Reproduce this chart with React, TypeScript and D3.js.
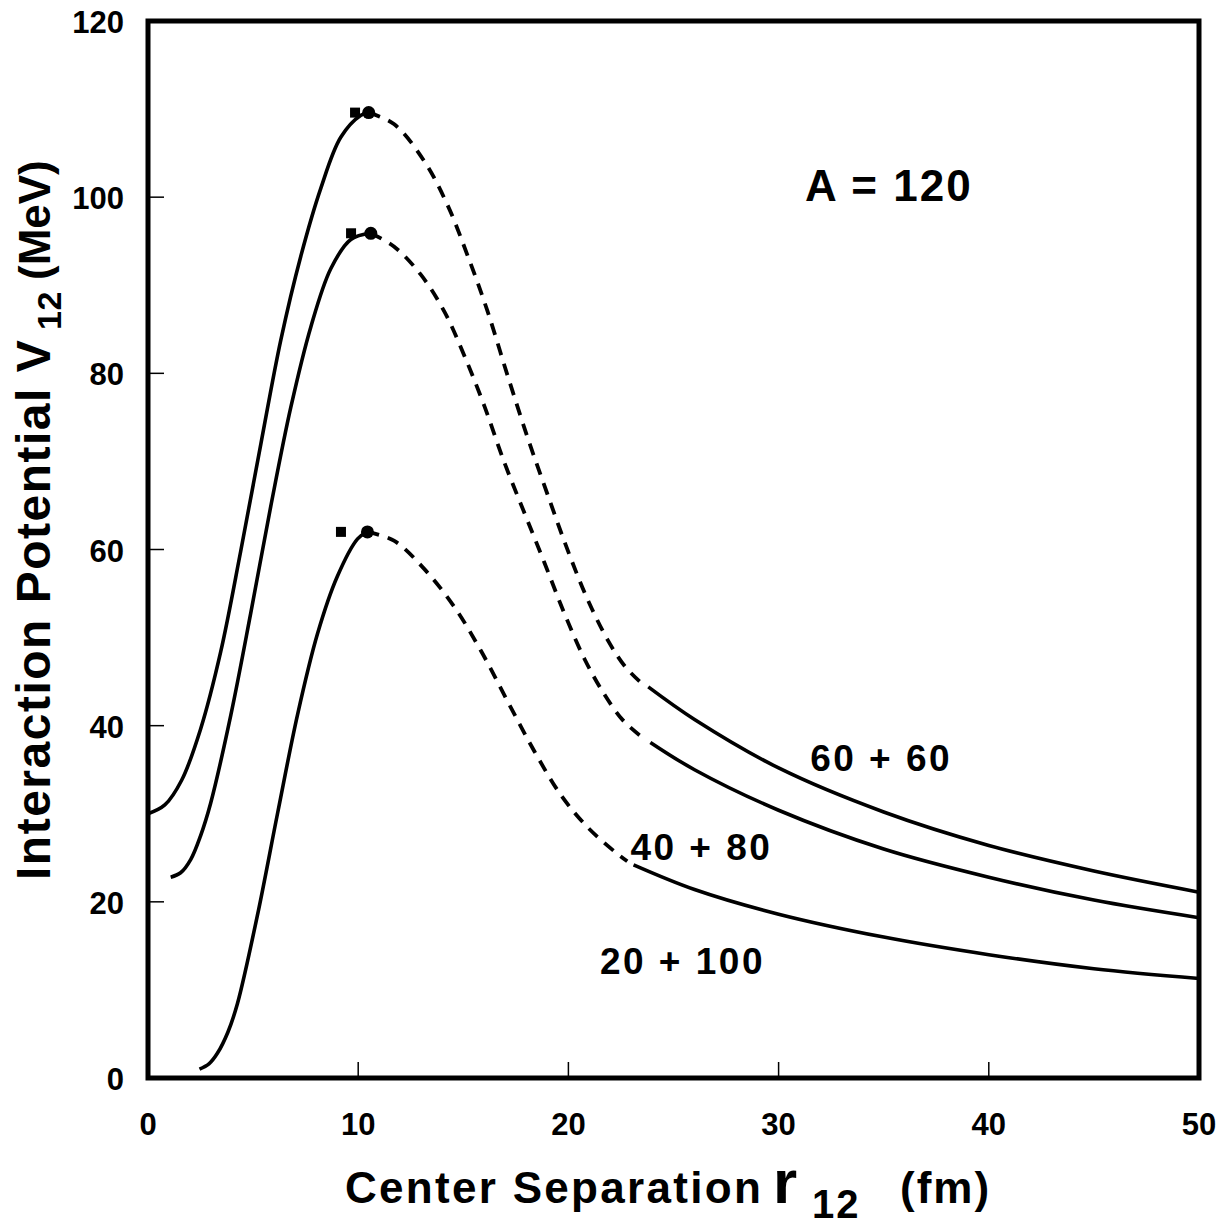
import React from "react";
import * as d3 from "d3";

// x = center separation r12 (fm), y = interaction potential V12 (MeV)
const rise60: [number, number][] = [[0, 30], [0.8, 31.0], [1.6, 33.8], [2.5, 39.6], [3.46, 48.4], [4.41, 59.8], [5.37, 72.0], [6.32, 83.8], [7.27, 93.3], [8.22, 101.0], [9.17, 106.8], [10.13, 109.3], [10.5, 109.6]];
const dash60: [number, number][] = [[10.5, 109.6], [11.7, 108.3], [13.14, 104.1], [14.25, 99.1], [15.2, 93.4], [16.16, 87], [17.1, 79.8], [18.06, 72.7], [19, 66.3], [19.97, 59.9], [20.9, 54.4], [21.9, 49.6], [22.7, 46.7], [23.4, 45.0]];
const tail60: [number, number][] = [[23.8, 44.4], [26, 40.7], [30, 35.2], [35, 30.2], [40, 26.4], [45, 23.5], [50, 21.1]];

const rise40: [number, number][] = [[1.08, 22.8], [1.55, 23.3], [2.03, 24.8], [2.5, 27.5], [2.98, 31.2], [3.94, 41.2], [4.89, 52.8], [5.84, 64.9], [6.79, 76.1], [7.75, 85.3], [8.7, 91.9], [9.65, 95.2], [10.6, 95.9]];
const dash40: [number, number][] = [[10.6, 95.9], [11.7, 94.4], [12.98, 91.2], [14.1, 87], [15.05, 82], [16, 76.3], [16.95, 69.9], [17.9, 64.2], [18.86, 58.5], [19.8, 52.8], [20.76, 47.6], [21.7, 43.6], [22.6, 40.6], [23.5, 38.7]];
const tail40: [number, number][] = [[23.9, 38.1], [26, 35.0], [30, 30.4], [35, 26.0], [40, 22.8], [45, 20.2], [50, 18.2]];

const rise20: [number, number][] = [[2.45, 1.0], [2.9, 1.6], [3.3, 2.8], [3.8, 5.2], [4.25, 8.4], [5.2, 18.4], [6.16, 30], [7.11, 41.2], [8.06, 50.4], [9, 56.9], [9.97, 61.2], [10.44, 62]];
const dash20: [number, number][] = [[10.44, 62], [11.7, 61], [13.14, 57.8], [14.57, 53.5], [15.84, 48.5], [17.1, 42.8], [18.38, 37.1], [19.65, 32.1], [20.9, 28.5], [22.2, 25.7], [22.8, 24.6]];
const tail20: [number, number][] = [[23.1, 24.2], [26, 21.4], [30, 18.6], [35, 16.0], [40, 14.0], [45, 12.4], [50, 11.3]];

const squares: [number, number][] = [[9.85, 109.6], [9.66, 95.9], [9.18, 62]];
const circles: [number, number][] = [[10.5, 109.6], [10.6, 95.9], [10.44, 62]];

const labels = [
  { text: "60 + 60", x: 31.5, y: 34.8 },
  { text: "40 + 80", x: 22.95, y: 24.8 },
  { text: "20 + 100", x: 21.5, y: 11.8 },
];

const xTicks = [0, 10, 20, 30, 40, 50];
const yTicks = [0, 20, 40, 60, 80, 100, 120];

const FONT = "'Liberation Sans', Arial, Helvetica, sans-serif";

export default function App() {
  const left = 148, right = 1199, top = 21, bottom = 1078;
  const x = d3.scaleLinear().domain([0, 50]).range([left, right]);
  const y = d3.scaleLinear().domain([0, 120]).range([bottom, top]);
  const line = d3
    .line<[number, number]>()
    .x((d) => x(d[0]))
    .y((d) => y(d[1]))
    .curve(d3.curveCatmullRom);

  const solids = [rise60, tail60, rise40, tail40, rise20, tail20];
  const dashes = [dash60, dash40, dash20];

  return (
    <div style={{ position: "absolute", left: 0, top: 0 }}>
      <svg width={1228} height={1226} style={{ display: "block", background: "#fff" }}>
        {solids.map((s, i) => (
          <path key={"s" + i} d={line(s) || ""} fill="none" stroke="#000" strokeWidth={3.6} />
        ))}
        {dashes.map((s, i) => (
          <path key={"d" + i} d={line(s) || ""} fill="none" stroke="#000" strokeWidth={3.8} strokeDasharray="12 9" />
        ))}
        {squares.map((d, i) => (
          <rect key={"q" + i} x={x(d[0]) - 5} y={y(d[1]) - 5} width={10} height={10} fill="#000" />
        ))}
        {circles.map((d, i) => (
          <circle key={"c" + i} cx={x(d[0])} cy={y(d[1])} r={6.5} fill="#000" />
        ))}

        {/* inward ticks */}
        {xTicks.slice(1, -1).map((t) => (
          <line key={"xt" + t} x1={x(t)} x2={x(t)} y1={bottom} y2={bottom - 16} stroke="#000" strokeWidth={1.5} />
        ))}
        {yTicks.slice(1, -1).map((t) => (
          <line key={"yt" + t} x1={left} x2={left + 16} y1={y(t)} y2={y(t)} stroke="#000" strokeWidth={1.5} />
        ))}

        <rect x={left} y={top} width={right - left} height={bottom - top} fill="none" stroke="#000" strokeWidth={5} />

        {xTicks.map((t) => (
          <text key={"xl" + t} x={x(t)} y={1135} textAnchor="middle" fontFamily={FONT} fontWeight="bold" fontSize={31}>
            {t}
          </text>
        ))}
        {yTicks.map((t) => (
          <text key={"yl" + t} x={124} y={y(t) + 12} textAnchor="end" fontFamily={FONT} fontWeight="bold" fontSize={31}>
            {t}
          </text>
        ))}

        {labels.map((l) => (
          <text key={l.text} x={x(l.x)} y={y(l.y)} fontFamily={FONT} fontWeight="bold" fontSize={37} letterSpacing={2.5}>
            {l.text}
          </text>
        ))}
        <text x={805} y={201} fontFamily={FONT} fontWeight="bold" fontSize={44} letterSpacing={2}>
          A = 120
        </text>

        <text y={1203} fontFamily={FONT} fontWeight="bold" fontSize={44}>
          <tspan x={345} letterSpacing={2.3}>Center Separation</tspan>
          <tspan x={773} fontSize={62}>r</tspan>
          <tspan x={812} fontSize={40} dy={15} letterSpacing={2}>12</tspan>
          <tspan x={900} dy={-15} letterSpacing={2}>(fm)</tspan>
        </text>

        <g transform="translate(50,880) rotate(-90)">
          <text y={0} fontFamily={FONT} fontWeight="bold" fontSize={48}>
            <tspan x={0} letterSpacing={1.5}>Interaction Potential V</tspan>
            <tspan x={550} fontSize={34} dy={11} letterSpacing={0.5}>12</tspan>
            <tspan x={600} dy={-11} fontSize={44}>(MeV)</tspan>
          </text>
        </g>
      </svg>
    </div>
  );
}
